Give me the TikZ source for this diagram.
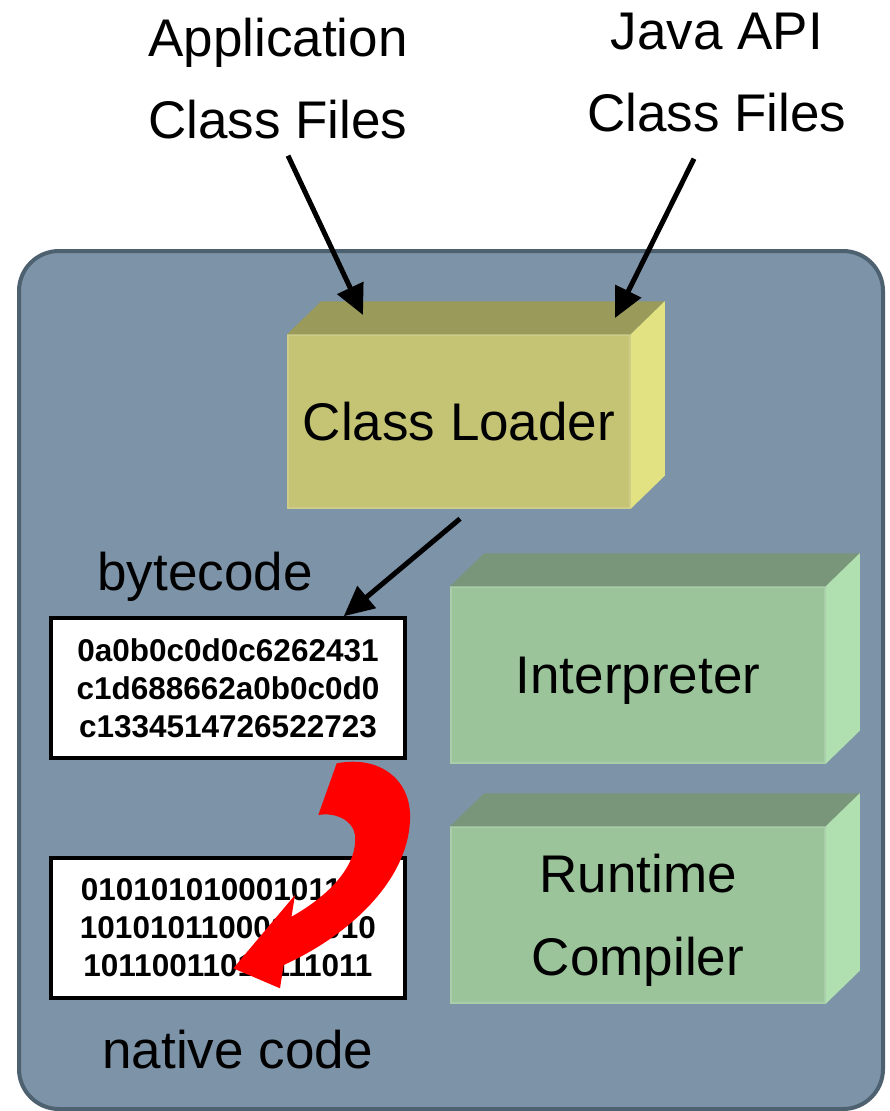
\documentclass[tikz,border=0pt]{standalone}
\usepackage{fontspec}
\setmainfont{Liberation Sans}
\usetikzlibrary{arrows.meta}

\definecolor{vmfill}{HTML}{7D93A7}
\definecolor{vmedge}{HTML}{4D6170}
\definecolor{loaderfront}{HTML}{C4C474}
\definecolor{loadertop}{HTML}{9A9A5A}
\definecolor{loaderside}{HTML}{E2E283}
\definecolor{enginefront}{HTML}{9BC49B}
\definecolor{enginetop}{HTML}{7A967A}
\definecolor{engineside}{HTML}{B0DFB0}

\tikzset{
  bigtext/.style={font=\fontsize{53}{82}\selectfont, align=center, inner sep=0pt},
  facebox/.style={inner sep=0pt, align=center, line width=1.5pt, text depth=0pt,
    font=\fontsize{53}{83}\selectfont},
  codebox/.style={draw, fill=white, line width=3.5pt, minimum width=354pt, minimum height=140pt,
    inner sep=0pt, align=center, font=\fontsize{31.5}{38}\selectfont\bfseries},
  feed/.style={line width=5pt, -{Triangle[length=30pt,width=28pt]}},
}

% top and side faces of a block: node, top colour, side colour
\newcommand{\blockfaces}[3]{%
  \fill[#2] (#1.north west) -- ++(34,-33) -- ([shift={(34,-33)}]#1.north east) -- (#1.north east) -- cycle;
  \fill[#3] (#1.north east) -- ++(34,-33) -- ([shift={(34,-33)}]#1.south east) -- (#1.south east) -- cycle;
}

\begin{document}
\begin{tikzpicture}[x=1pt,y=-1pt]
\useasboundingbox (0,0) rectangle (889,1111);

% the virtual machine
\draw[fill=vmfill, draw=vmedge, line width=4pt, rounded corners=40pt] (19,251) rectangle (883,1109);

% class files
\node[bigtext] (app) at (278,79) {Application\\Class Files};
\node[bigtext] (api) at (717,73) {Java API\\Class Files};

% blocks
\node[facebox, fill=loaderfront, draw=loaderfront!85!white, minimum width=342pt, minimum height=173pt]
  (loader) at (459,421.5) {Class Loader};
\blockfaces{loader}{loadertop}{loaderside}
\node[facebox, fill=enginefront, draw=enginefront!85!white, minimum width=374pt, minimum height=176pt]
  (interp) at (638,675) {Interpreter};
\blockfaces{interp}{enginetop}{engineside}
\node[facebox, fill=enginefront, draw=enginefront!85!white, minimum width=374pt, minimum height=176pt]
  (jit) at (638,915) {Runtime\\Compiler};
\blockfaces{jit}{enginetop}{engineside}

% code
\node[bigtext, anchor=base] (bclabel) at (205,590) {bytecode};
\node[codebox] (bytebox) at (228,688) {0a0b0c0d0c6262431\\c1d688662a0b0c0d0\\c1334514726522723};
\node[codebox] (nativebox) at (228,928) {01010101000101110\\10101011000101010\\10110011010111011};
\node[bigtext, anchor=base] (nclabel) at (238,1068) {native code};

% loading
\coordinate (appdrop) at (363,315);
\coordinate (apidrop) at (615,318);
\draw[feed] ([shift={(10,16)}]app.south) -- (appdrop);
\draw[feed] ([shift={(-23,26)}]api.south) -- (apidrop);
\draw[feed] ([shift={(1,10)}]loader.south) -- ([xshift=-63pt]bytebox.north east);

% compile step
\fill[red] (336.7,763.3) .. controls (380,755) and (412,780) .. (410,820)
  .. controls (408,880) and (350,935) .. (283.7,965) -- (280,988.3) -- (233.3,968.3)
  -- (295,895) -- (291.5,916.7) .. controls (330,895) and (358,865) .. (355,835)
  .. controls (353,820) and (335,812) .. (318.3,815) -- cycle;
\end{tikzpicture}
\end{document}
